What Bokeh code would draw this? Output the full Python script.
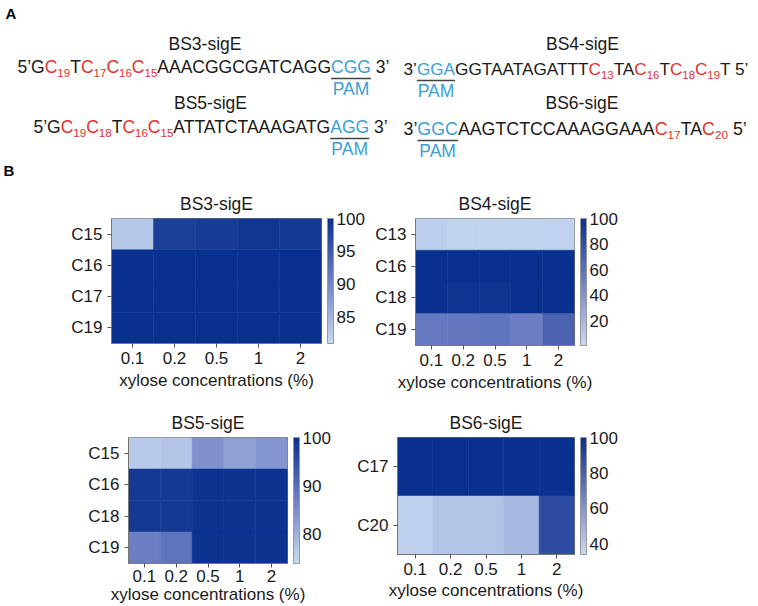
from bokeh.plotting import figure
from bokeh.models import (Range1d, FactorRange, ColumnDataSource, LinearColorMapper,
                          ColorBar, FixedTicker)
from bokeh.layouts import column, row
from bokeh.core.properties import value
from bokeh.embed import file_html
from bokeh.resources import INLINE

FONT = "Liberation Sans"

# ---------------- data ----------------
xylose = ["0.1", "0.2", "0.5", "1", "2"]

bs3_rows = ["C15", "C16", "C17", "C19"]
bs3_c15 = [83.0, 98.2, 98.6, 99.3, 98.8]
bs3_c16 = [100, 100, 100, 100, 100]
bs3_c17 = [100, 100, 100, 100, 100]
bs3_c19 = [100, 100, 100, 100, 100]
bs3_ticks = [85, 90, 95, 100]

bs4_rows = ["C13", "C16", "C18", "C19"]
bs4_c13 = [8, 5, 5, 5, 6]
bs4_c16 = [100, 100, 100, 100, 100]
bs4_c18 = [99, 97, 97, 100, 100]
bs4_c19 = [55, 56, 58, 52, 68]
bs4_ticks = [20, 40, 60, 80, 100]

bs5_rows = ["C15", "C16", "C18", "C19"]
bs5_c15 = [76.5, 77.0, 84.5, 82.5, 84.0]
bs5_c16 = [98.5, 98.5, 99.5, 99.5, 99.5]
bs5_c18 = [98.5, 98.5, 99.5, 99.5, 99.5]
bs5_c19 = [87.5, 89.0, 99.5, 99.5, 99.5]
bs5_ticks = [80, 90, 100]

bs6_rows = ["C17", "C20"]
bs6_c17 = [100, 100, 100, 100, 100]
bs6_c20 = [38, 42, 42, 46, 88]
bs6_ticks = [40, 60, 80, 100]

# sequences: (text, style)  k=black, r=red, s=red subscript, b=PAM blue
seq_bs3 = [("5’G", "k"), ("C", "r"), ("19", "s"), ("T", "k"), ("C", "r"), ("17", "s"),
           ("C", "r"), ("16", "s"), ("C", "r"), ("15", "s"), ("AAACGGCGATCAGG", "k"),
           ("CGG", "b"), (" 3’", "k")]
seq_bs4 = [("3’", "k"), ("GGA", "b"), ("GGTAATAGATTT", "k"), ("C", "r"), ("13", "s"),
           ("TA", "k"), ("C", "r"), ("16", "s"), ("T", "k"), ("C", "r"), ("18", "s"),
           ("C", "r"), ("19", "s"), ("T 5’", "k")]
seq_bs5 = [("5’G", "k"), ("C", "r"), ("19", "s"), ("C", "r"), ("18", "s"), ("T", "k"),
           ("C", "r"), ("16", "s"), ("C", "r"), ("15", "s"), ("ATTATCTAAAGATG", "k"),
           ("AGG", "b"), (" 3’", "k")]
seq_bs6 = [("3’", "k"), ("GGC", "b"), ("AAGTCTCCAAAGGAAA", "k"), ("C", "r"), ("17", "s"),
           ("TA", "k"), ("C", "r"), ("20", "s"), (" 5’", "k")]

RED = "#e0332b"
BLUE = "#3b9fd6"
TXT = "#1a1a1a"

# Arial / Liberation Sans advance widths (em) and kerning
ADV = {"A": .667, "C": .722, "G": .778, "T": .611, " ": .278, "’": .222}
for d in "0123456789":
    ADV[d] = .556
KERN = {"AT": -.074, "TA": -.074}

# ---------------- colour map ----------------
stops = [(0.0, (200, 219, 241)), (0.5, (112, 128, 197)), (1.0, (8, 48, 142))]
PAL = []
for i in range(256):
    t = i / 255
    for (t0, c0), (t1, c1) in zip(stops[:-1], stops[1:]):
        if t0 <= t <= t1:
            u = (t - t0) / (t1 - t0)
            c = tuple(int(round(a + (b - a) * u)) for a, b in zip(c0, c1))
            PAL.append("#%02x%02x%02x" % c)
            break

# ---------------- panel A ----------------
WA, HA = 756, 182
pa = figure(width=WA, height=HA, x_range=Range1d(0, WA), y_range=Range1d(HA, 0),
            toolbar_location=None, output_backend="svg", min_border=0,
            x_axis_location=None, y_axis_location=None)
pa.grid.visible = False
pa.outline_line_color = None

SHIFT = 0.5  # rendered baseline lies about 0.5 em below the given y


def txt(p, x, base, s, size, color=TXT, align="left", style="normal"):
    p.text(x=[x], y=[base - SHIFT * size], text=[s], text_font=value(FONT),
           text_font_size=value(f"{size}px"), text_color=color, text_align=align,
           text_baseline="alphabetic", text_font_style=style)


def width(s, size):
    w = sum(ADV[c] for c in s)
    w += sum(KERN.get(s[i:i + 2], 0) for i in range(len(s) - 1))
    return w * size


def draw_seq(p, x0, base, segs, fs):
    x = x0
    span = None
    for s, st in segs:
        sub = st == "s"
        size = round(fs * 0.66, 2) if sub else fs
        color = {"k": TXT, "r": RED, "s": RED, "b": BLUE}[st]
        lead = 0.0
        shown = s
        if s.startswith(" "):
            shown = s.lstrip(" ")
            lead = width(s[:len(s) - len(shown)], size)
        txt(p, x + lead, base + 3 if sub else base, shown, size, color)
        w = width(s, size)
        if st == "b":
            span = (x, x + w)
        x += w
    a, b = span
    p.segment(x0=[a], y0=[base + 3], x1=[b], y1=[base + 3], line_color="#444", line_width=1.3)
    txt(p, (a + b) / 2, base + 22, "PAM", 17.5, BLUE, align="center")


txt(pa, 5, 20, "A", 15, "#000", style="bold")
txt(pa, 204.5, 52, "BS3-sigE", 17.5, align="center")
txt(pa, 582, 52, "BS4-sigE", 17.5, align="center")
txt(pa, 210, 111, "BS5-sigE", 17.5, align="center")
txt(pa, 581.5, 111, "BS6-sigE", 17.5, align="center")
draw_seq(pa, 17, 75, seq_bs3, 17.5)
draw_seq(pa, 403, 77, seq_bs4, 17.2)
draw_seq(pa, 33, 135, seq_bs5, 17.5)
draw_seq(pa, 403, 137, seq_bs6, 17.8)
txt(pa, 3, 177, "B", 15, "#000", style="bold")


# ---------------- heatmaps ----------------
def heat(title, rows, vals, low, high, ticks, fw, fh, left, right, top, bottom,
         tick_gap, label_gap, title_dx):
    xs, ys, vs = [], [], []
    for r, rv in zip(rows, vals):
        for c, v in zip(xylose, rv):
            xs.append(c)
            ys.append(r)
            vs.append(v)
    src = ColumnDataSource(dict(x=xs, y=ys, v=vs))
    mapper = LinearColorMapper(palette=PAL, low=low, high=high)
    p = figure(x_range=FactorRange(factors=xylose), y_range=FactorRange(factors=rows[::-1]),
               frame_width=fw, frame_height=fh, min_border_left=left, min_border_right=right,
               min_border_top=top, min_border_bottom=bottom, toolbar_location=None,
               output_backend="svg", title=title, x_axis_label="xylose concentrations (%)")
    p.rect(x="x", y="y", width=1, height=1, source=src,
           fill_color={"field": "v", "transform": mapper},
           line_color={"field": "v", "transform": mapper}, line_width=0.5)
    p.grid.visible = False
    p.outline_line_color = "#777"
    for ax in (p.xaxis[0], p.yaxis[0]):
        ax.axis_line_color = "#777"
        ax.major_tick_line_color = "#555"
        ax.major_tick_out = 4
        ax.major_tick_in = 0
        ax.major_label_text_font = FONT
        ax.major_label_text_font_size = "17px"
        ax.major_label_text_color = TXT
        ax.major_label_standoff = 5
    p.xaxis.major_label_standoff = tick_gap
    p.xaxis.axis_label_standoff = label_gap
    p.xaxis.axis_label_text_font = FONT
    p.xaxis.axis_label_text_font_size = "17px"
    p.xaxis.axis_label_text_font_style = "normal"
    p.xaxis.axis_label_text_color = TXT
    p.title.align = "center"
    p.title.offset = title_dx
    p.title.text_font = FONT
    p.title.text_font_size = "17.5px"
    p.title.text_font_style = "normal"
    p.title.text_color = TXT
    p.title.standoff = 10
    cb = ColorBar(color_mapper=mapper, ticker=FixedTicker(ticks=ticks), width=6,
                  height=fh, padding=0, margin=0, label_standoff=3, location=(fw + 6, 0),
                  major_label_text_font=FONT, major_label_text_font_size="17px",
                  major_label_text_color=TXT, major_tick_line_color=None,
                  bar_line_color="#999", border_line_color=None, background_fill_color=None)
    p.add_layout(cb)
    return p


f1 = heat("BS3-sigE", bs3_rows, [bs3_c15, bs3_c16, bs3_c17, bs3_c19], 81, 100, bs3_ticks,
          210, 125, 111, 49, 36, 51, 4, 4, 9)
f2 = heat("BS4-sigE", bs4_rows, [bs4_c13, bs4_c16, bs4_c18, bs4_c19], 1, 100, bs4_ticks,
          159, 127, 45, 182, 34, 51, 4, 4, -3)
f3 = heat("BS5-sigE", bs5_rows, [bs5_c15, bs5_c16, bs5_c18, bs5_c19], 74, 100, bs5_ticks,
          159, 126, 128, 53, 38, 46, 2, 0, 9)
f4 = heat("BS6-sigE", bs6_rows, [bs6_c17, bs6_c20], 34, 100, bs6_ticks,
          177, 117, 57, 182, 43, 50, 4, 3, 5)

layout = column(pa, row(f1, f2), row(f3, f4))
open("out.html", "w").write(file_html(layout, INLINE))
